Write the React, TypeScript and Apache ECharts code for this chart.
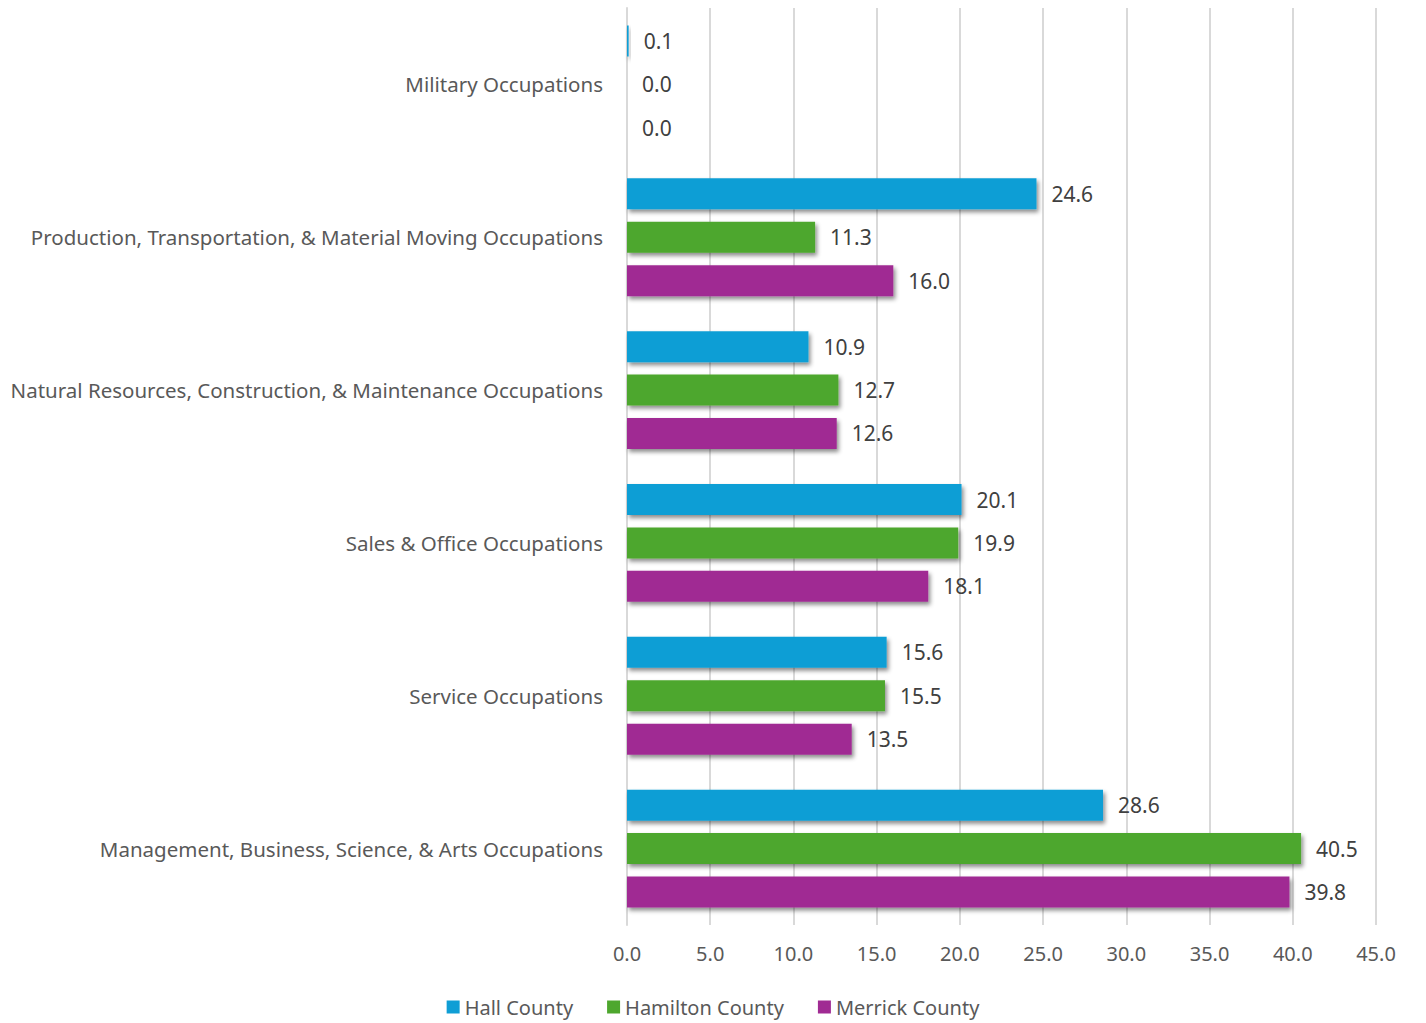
import React, { useEffect, useRef } from "react";
import * as echarts from "echarts";

const categories = [
  "Management, Business, Science, & Arts Occupations",
  "Service Occupations",
  "Sales & Office Occupations",
  "Natural Resources, Construction, & Maintenance Occupations",
  "Production, Transportation, & Material Moving Occupations",
  "Military Occupations",
];
const hallCounty = [28.6, 15.6, 20.1, 10.9, 24.6, 0.1];
const hamiltonCounty = [40.5, 15.5, 19.9, 12.7, 11.3, 0.0];
const merrickCounty = [39.8, 13.5, 18.1, 12.6, 16.0, 0.0];
const seriesNames = ["Hall County", "Hamilton County", "Merrick County"];
const colors = ["#0F9ED5", "#4EA72E", "#A02B93"];

const FONT = "'Noto Sans', sans-serif";

export default function App() {
  const ref = useRef<HTMLDivElement>(null);
  useEffect(() => {
    const chart = echarts.init(ref.current!, null, { renderer: "svg" });
    const mk = (name: string, data: number[], color: string) => ({
      name,
      type: "bar",
      data,
      barWidth: 31,
      barGap: "40%",
      itemStyle: {
        color,
        shadowBlur: 4,
        shadowColor: "rgba(0,0,0,0.45)",
        shadowOffsetX: 2,
        shadowOffsetY: 3,
      },
      label: {
        show: true,
        position: "right",
        distance: 15,
        formatter: (p: any) => Number(p.value).toFixed(1),
        color: "#404040",
        fontSize: 21,
        fontFamily: FONT,
      },
    });
    chart.setOption({
      animation: false,
      grid: { left: 627, right: 50, top: 8, bottom: 98, containLabel: false },
      legend: {
        bottom: 1,
        left: "center",
        itemWidth: 13,
        itemHeight: 13,
        itemGap: 34,
        icon: "rect",
        textStyle: { color: "#595959", fontSize: 20, fontFamily: FONT },
        data: seriesNames,
      },
      xAxis: {
        type: "value",
        min: 0,
        max: 45,
        interval: 5,
        axisLabel: {
          formatter: (v: number) => v.toFixed(1),
          color: "#595959",
          fontSize: 20,
          fontFamily: FONT,
          margin: 18,
        },
        axisLine: { show: false },
        axisTick: { show: false },
        splitLine: { show: true, lineStyle: { color: "#D9D9D9", width: 2 } },
      },
      yAxis: {
        type: "category",
        data: categories,
        axisLabel: {
          color: "#595959",
          fontSize: 20.5,
          fontFamily: FONT,
          margin: 24,
        },
        axisLine: { show: true, lineStyle: { color: "#D9D9D9", width: 2 } },
        axisTick: { show: false },
      },
      series: [
        mk(seriesNames[0], hallCounty, colors[0]),
        mk(seriesNames[1], hamiltonCounty, colors[1]),
        mk(seriesNames[2], merrickCounty, colors[2]),
      ],
    });
    return () => chart.dispose();
  }, []);
  return (
    <div
      ref={ref}
      style={{ position: "absolute", left: 0, top: 0, width: 1426, height: 1023, background: "#fff" }}
    />
  );
}
